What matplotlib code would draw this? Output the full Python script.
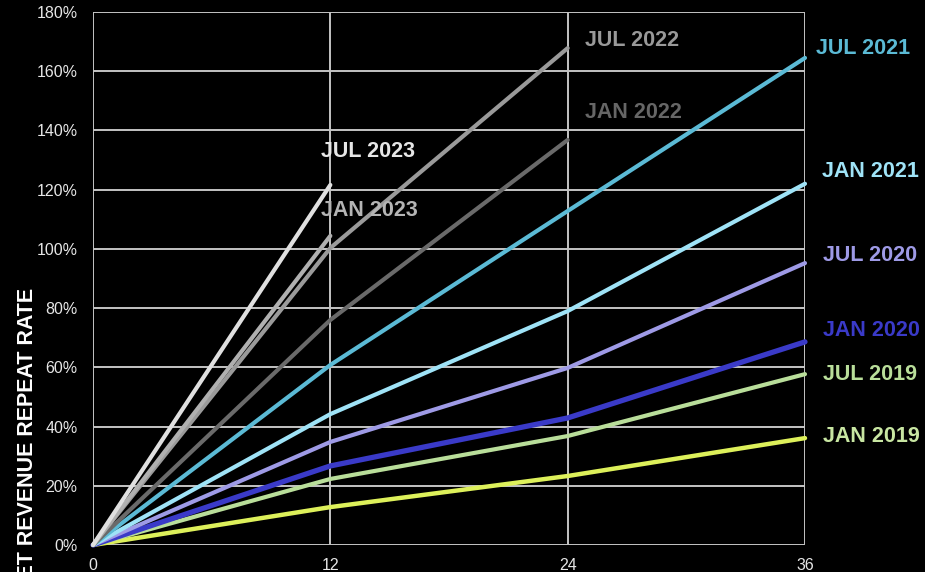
import matplotlib
matplotlib.use("Agg")
from matplotlib import pyplot as plt
from matplotlib.ticker import FuncFormatter

# months since cohort start
months = [0, 12, 24, 36]

# cohort names, oldest first
cohorts = ["JAN 2019", "JUL 2019", "JAN 2020", "JUL 2020", "JAN 2021",
           "JUL 2021", "JAN 2022", "JUL 2022", "JAN 2023", "JUL 2023"]

# repeat rate in %, one list per cohort (shorter for young cohorts)
jan_2019 = [0, 12.8, 23.3, 36.1]
jul_2019 = [0, 22.3, 36.8, 57.7]
jan_2020 = [0, 26.7, 42.9, 68.6]
jul_2020 = [0, 34.8, 59.8, 95.2]
jan_2021 = [0, 44.2, 79.0, 122.0]
jul_2021 = [0, 60.8, 112.8, 164.5]
jan_2022 = [0, 76.0, 136.8]
jul_2022 = [0, 100.3, 167.8]
jan_2023 = [0, 104.4]
jul_2023 = [0, 121.6]

series = [jan_2019, jul_2019, jan_2020, jul_2020, jan_2021,
          jul_2021, jan_2022, jul_2022, jan_2023, jul_2023]

line_colors = ["#DDF05A", "#B9DE9A", "#3A3AC8", "#9E9AE6", "#9FE3F7",
               "#5BBAD5", "#6A6A6A", "#9A9A9A", "#B0B0B0", "#E0E0E0"]
label_colors = ["#C8E6A2", "#B9DE9A", "#3A3AC8", "#9E9AE6", "#9FE3F7",
                "#5BBAD5", "#666666", "#999999", "#B4B4B4", "#E6E6E6"]
line_widths = [3.2, 3.0, 3.8, 3.0, 3.0, 3.0, 3.0, 3.0, 3.0, 3.0]

# where the cohort names sit (month, %)
label_pos = [(36.9, 36.5), (36.9, 57.7), (36.9, 72.6), (36.9, 97.6),
             (36.85, 126.0), (36.55, 167.8), (24.9, 146.0), (24.9, 170.5),
             (11.55, 113.0), (11.55, 133.0)]

plt.rcParams["font.family"] = ["Liberation Sans", "DejaVu Sans"]

fig = plt.figure(figsize=(9.25, 5.72), dpi=100, facecolor="black")
ax = fig.add_axes([93 / 925, 1 - 545 / 572, 712 / 925, 533 / 572])
ax.set_facecolor("black")

for vals, lc, lw in zip(series, line_colors, line_widths):
    ax.plot(months[:len(vals)], vals, color=lc, lw=lw,
            solid_capstyle="round", zorder=3, clip_on=False)

for name, (lx, ly), tc in zip(cohorts, label_pos, label_colors):
    ax.text(lx, ly, name, color=tc, fontsize=15.5, fontweight="bold",
            ha="left", va="center", zorder=4, clip_on=False)

ax.set_xlim(0, 36)
ax.set_ylim(0, 180)
ax.set_xticks(months)
ax.set_yticks(range(0, 181, 20))
ax.yaxis.set_major_formatter(FuncFormatter(lambda v, p: f"{v:.0f}%"))
ax.grid(True, color="#C4C4C4", lw=1.4, zorder=1)
for s in ax.spines.values():
    s.set_visible(False)
ax.tick_params(length=0, colors="#E6E6E6", labelsize=11.5)
ax.tick_params(axis="y", pad=11)
ax.tick_params(axis="x", pad=9)

fig.text(28 / 925, 1 - 288 / 572, "NET REVENUE REPEAT RATE", rotation=90,
         ha="center", va="top", color="white", fontsize=15.5,
         fontweight="bold")

fig.savefig("out.png", dpi=100, facecolor="black")
